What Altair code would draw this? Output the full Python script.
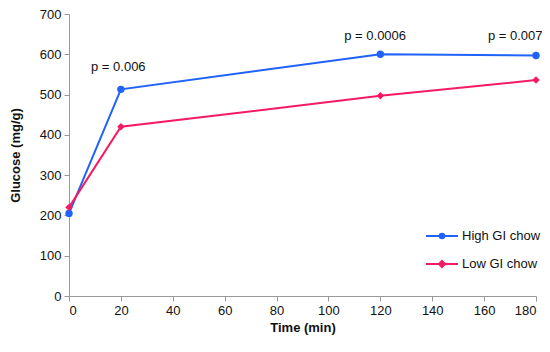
import altair as alt
import pandas as pd

times = [0, 20, 120, 180]
high_gi = [205, 513, 600, 597]
low_gi = [220, 420, 497, 536]
series_names = ["High GI chow", "Low GI chow"]
series_colors = ["#1f63fa", "#f51a62"]

p_labels = ["p = 0.006", "p = 0.0006", "p = 0.007"]
p_x = [19, 118, 172]
p_y = [568, 645, 645]

rows = []
for t, v in zip(times, high_gi):
    rows.append({"time": t, "glucose": v, "series": series_names[0]})
for t, v in zip(times, low_gi):
    rows.append({"time": t, "glucose": v, "series": series_names[1]})
df = pd.DataFrame(rows)
pdf = pd.DataFrame({"x": p_x, "y": p_y, "label": p_labels})

FONT = "Liberation Sans"

x_enc = alt.X("time:Q", scale=alt.Scale(domain=[0, 180], nice=False),
              axis=alt.Axis(values=list(range(0, 181, 20)), title="Time (min)"))
y_enc = alt.Y("glucose:Q", scale=alt.Scale(domain=[0, 700], nice=False),
              axis=alt.Axis(values=list(range(0, 701, 100)), title="Glucose (mg/g)"))
color_scale = alt.Scale(domain=series_names, range=series_colors)

lines = alt.Chart(df).mark_line(strokeWidth=2).encode(
    x=x_enc, y=y_enc,
    color=alt.Color("series:N", scale=color_scale, legend=None),
    detail="series:N",
)

pts_high = alt.Chart(df).mark_point(filled=True, opacity=1, size=55, shape="circle").encode(
    x="time:Q", y="glucose:Q",
    color=alt.Color("series:N", scale=color_scale, legend=None),
).transform_filter(alt.datum.series == series_names[0])

pts_low = alt.Chart(df).mark_point(filled=True, opacity=1, size=55, shape="diamond").encode(
    x="time:Q", y="glucose:Q",
    color=alt.Color("series:N", scale=color_scale, legend=None),
).transform_filter(alt.datum.series == series_names[1])

circle_path = "M-2,0H2M0.29,0A0.29,0.29 0 1,1 -0.29,0A0.29,0.29 0 1,1 0.29,0Z"
diamond_path = "M-2,0H2M0,-0.38L0.38,0L0,0.38L-0.38,0Z"

legend = alt.Legend(
    title=None, orient="none", legendX=364, legendY=213,
    symbolSize=256, symbolStrokeWidth=2, symbolOpacity=1,
    labelFont=FONT, labelFontSize=13, labelColor="#111", labelOffset=11,
    rowPadding=12,
)

legend_layer = alt.Chart(df).mark_point(filled=True, opacity=0, strokeWidth=2).encode(
    x="time:Q", y="glucose:Q",
    fill=alt.Fill("series:N", scale=alt.Scale(domain=series_names, range=series_colors), legend=legend),
    stroke=alt.Stroke("series:N", scale=alt.Scale(domain=series_names, range=series_colors), legend=legend),
    shape=alt.Shape("series:N", scale=alt.Scale(domain=series_names, range=[circle_path, diamond_path]), legend=legend),
)

texts = alt.Chart(pdf).mark_text(font=FONT, fontSize=13, color="#111", baseline="middle").encode(
    x="x:Q", y="y:Q", text="label:N"
)

chart = alt.layer(legend_layer, lines, pts_high, pts_low, texts).properties(
    width=467, height=282,
    autosize=alt.AutoSizeParams(type="none"),
    padding={"left": 61, "top": 6, "right": 6, "bottom": 44},
).configure_view(stroke=None).configure_axis(
    grid=False, domainColor="#9a9a9a", tickColor="#9a9a9a", tickSize=5,
    labelFont=FONT, labelFontSize=13, labelColor="#111",
    titleFont=FONT, titleFontSize=13, titleFontWeight="bold", titleColor="#111",
    labelPadding=3,
).configure_axisY(titlePadding=17).configure_axisX(titlePadding=4)

chart.save("out.html", embed_options={"renderer": "svg", "actions": False})
